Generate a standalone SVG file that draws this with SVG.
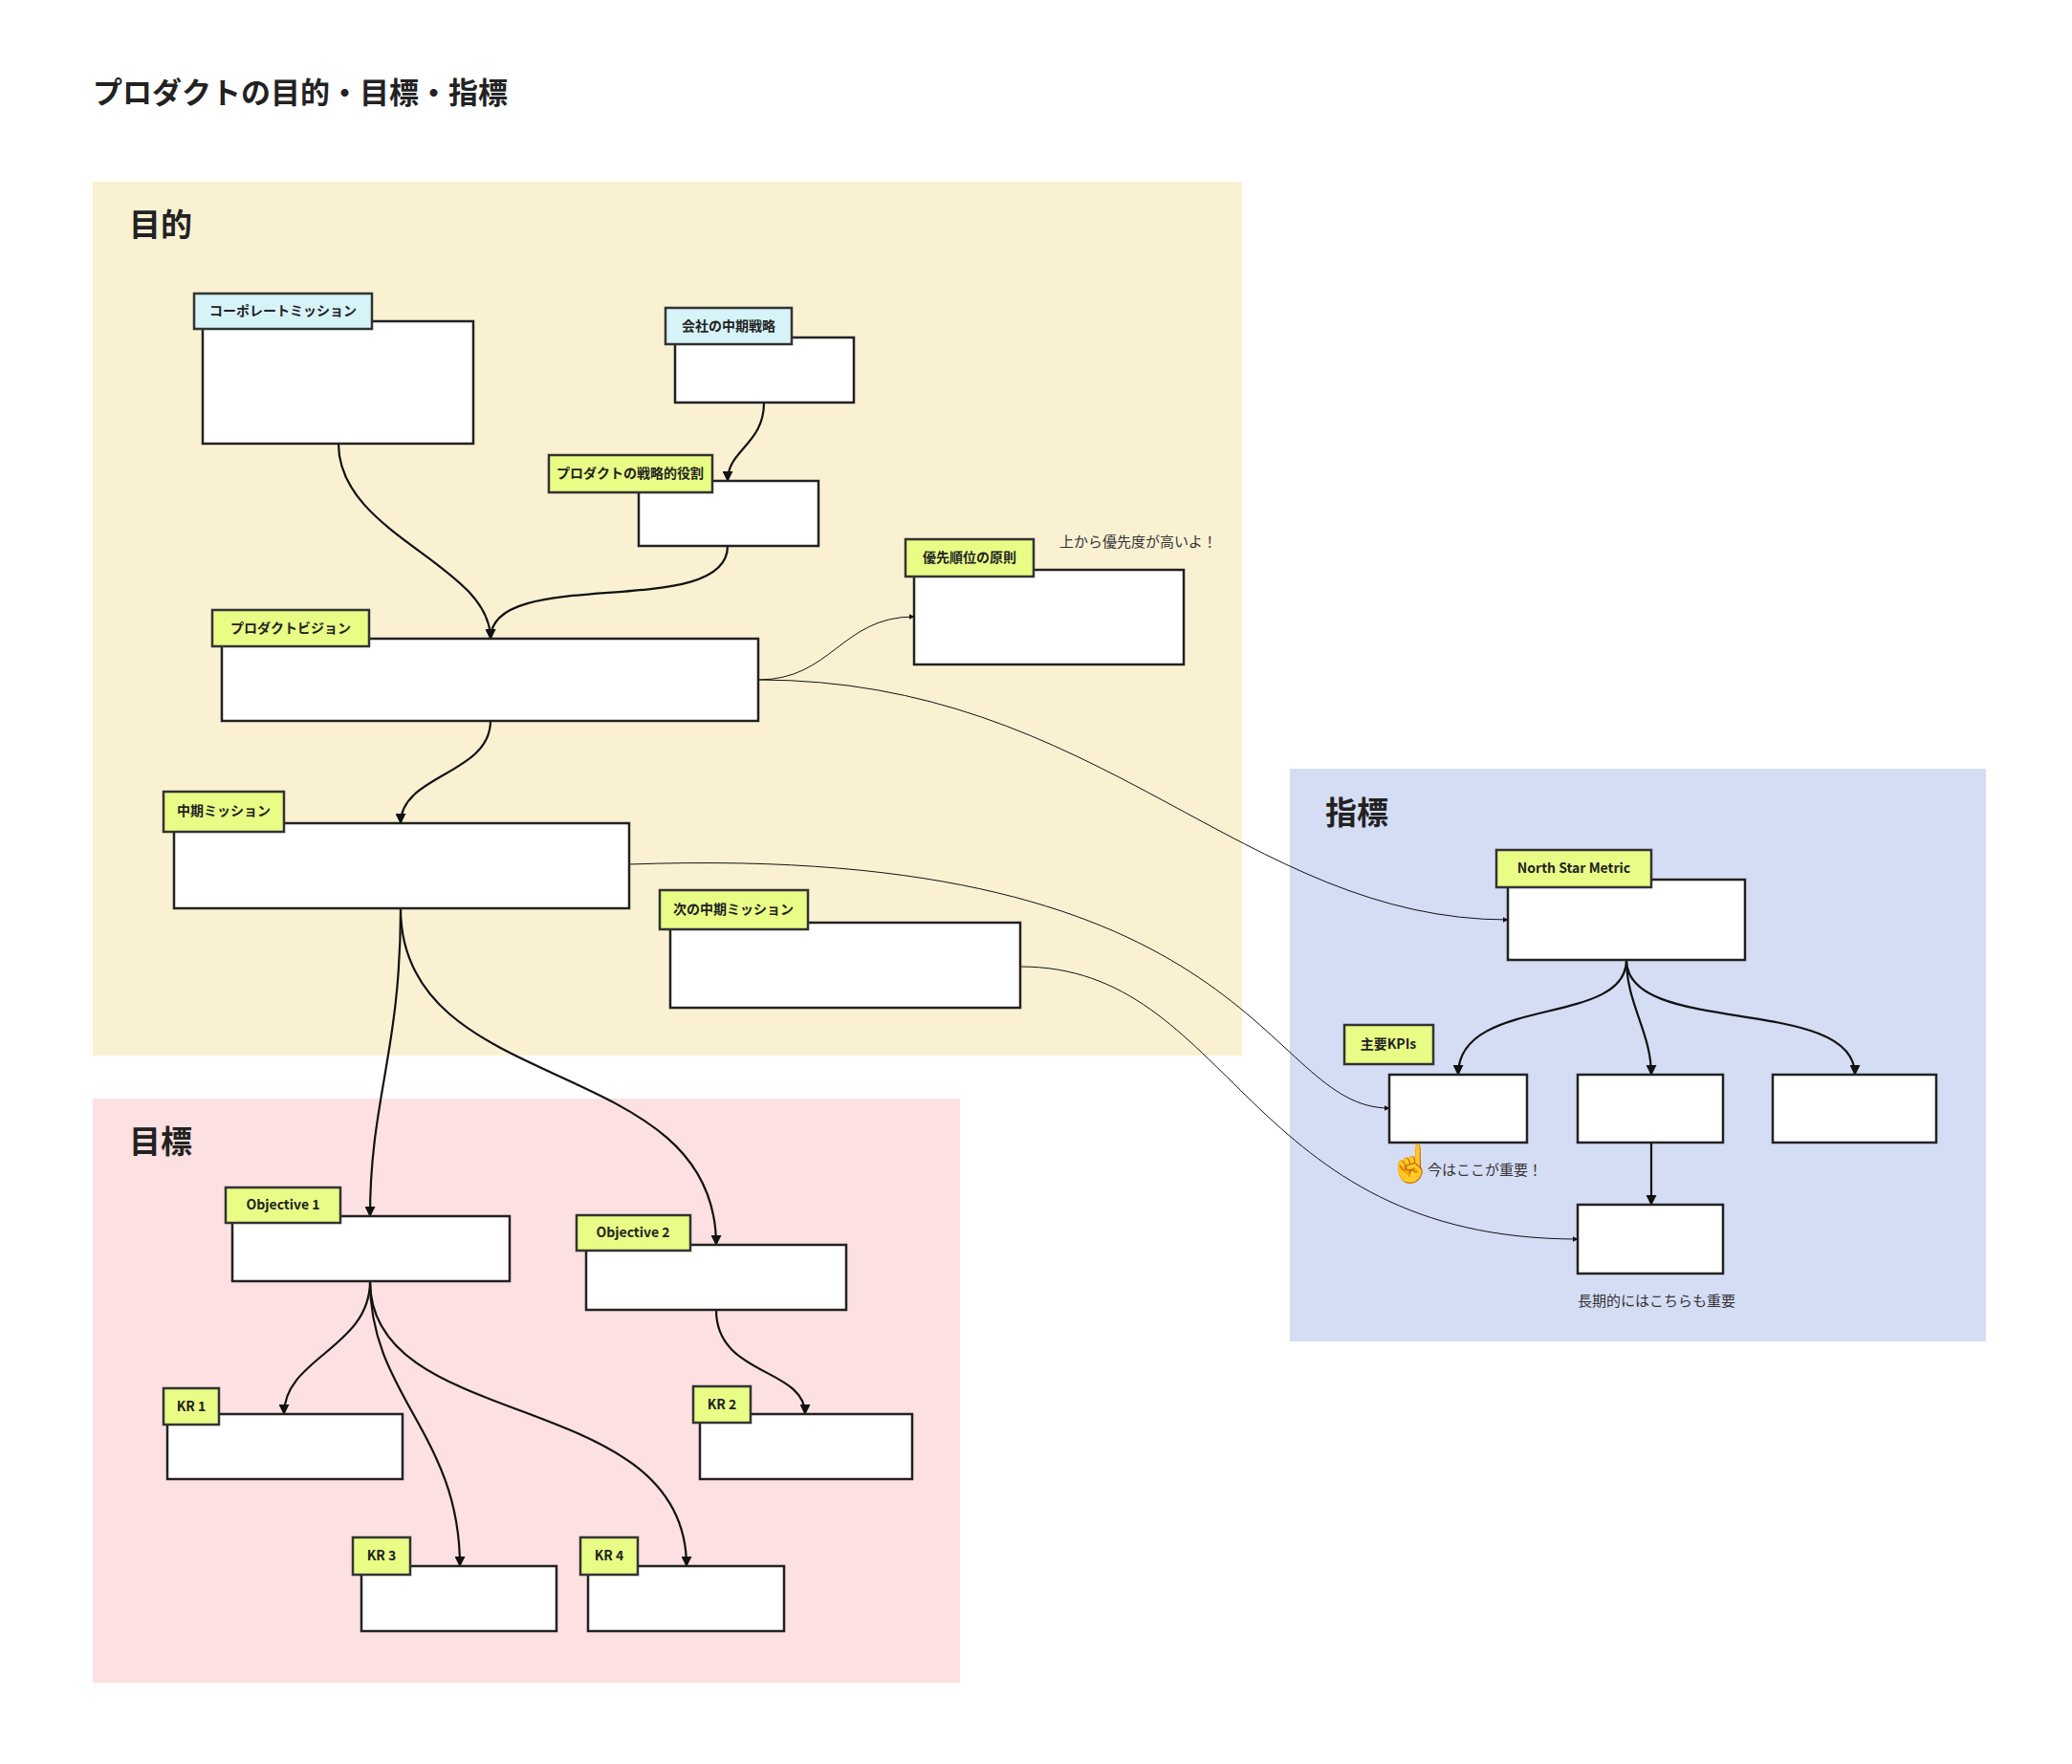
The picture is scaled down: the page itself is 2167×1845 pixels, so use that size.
<svg xmlns="http://www.w3.org/2000/svg" width="2167" height="1845" viewBox="0 0 2167 1845">
<defs>
<style>
.box{fill:#fff;stroke:#222;stroke-width:2.5}
.tg{fill:#e8fc86;stroke:#333;stroke-width:2.5}
.tc{fill:#d6f3f7;stroke:#333;stroke-width:2.5}
.tt{font-family:"Noto Sans CJK JP","Noto Sans",sans-serif;font-size:14px;font-weight:bold;fill:#222}
.note{font-family:"Noto Sans CJK JP","Noto Sans",sans-serif;font-size:15px;fill:#333}
.h{font-family:"Noto Sans CJK JP",sans-serif;font-weight:bold;fill:#222}
.c{fill:none;stroke:#111;stroke-width:2.2}
.t{fill:none;stroke:#111;stroke-width:1}
</style>
<marker id="a" viewBox="0 0 10 10" refX="9" refY="5" markerWidth="5" markerHeight="5" orient="auto" markerUnits="strokeWidth"><path d="M0,0L10,5L0,10z" fill="#111"/></marker>
<marker id="s" viewBox="0 0 10 10" refX="9" refY="5" markerWidth="6" markerHeight="6" orient="auto" markerUnits="strokeWidth"><path d="M0,0L10,5L0,10z" fill="#111"/></marker>
</defs>
<rect width="2167" height="1845" fill="#fff"/>
<text class="h" x="97" y="108" font-size="31">プロダクトの目的・目標・指標</text>
<g id="region-purpose"><rect x="97" y="190" width="1202" height="914" fill="#faf1d3"/><text class="h" x="135" y="247" font-size="33">目的</text></g>
<g id="region-goal"><rect x="97" y="1149" width="907" height="611" fill="#fde0e1"/><text class="h" x="135" y="1206" font-size="33">目標</text></g>
<g id="region-metric"><rect x="1349" y="804" width="728" height="599" fill="#d5ddf5"/><text class="h" x="1386" y="862" font-size="33">指標</text></g>
<g id="connectors">
<path class="c" marker-end="url(#a)" d="M354,464 C354,560 513,590 513,668"/>
<path class="c" marker-end="url(#a)" d="M799,421 C799,465 761,470 761,503"/>
<path class="c" marker-end="url(#a)" d="M761,571 C761,650 513,590 513,668"/>
<path class="t" marker-end="url(#s)" d="M793,711 C870,711 880,645 956,645"/>
<path class="t" marker-end="url(#s)" d="M793,711 C1150,711 1300,962 1577,962"/>
<path class="c" marker-end="url(#a)" d="M513,754 C513,810 419,810 419,861"/>
<path class="t" marker-end="url(#s)" d="M658,904 C1320,880 1320,1159 1453,1159"/>
<path class="t" marker-end="url(#s)" d="M1067,1011 C1290,1011 1300,1296 1650,1296"/>
<path class="c" marker-end="url(#a)" d="M419,950 C419,1100 387,1150 387,1272"/>
<path class="c" marker-end="url(#a)" d="M419,950 C419,1150 749,1100 749,1302"/>
<path class="c" marker-end="url(#a)" d="M387,1340 C387,1410 297,1420 297,1479"/>
<path class="c" marker-end="url(#a)" d="M387,1340 C387,1460 481,1500 481,1638"/>
<path class="c" marker-end="url(#a)" d="M387,1340 C387,1500 718,1450 718,1638"/>
<path class="c" marker-end="url(#a)" d="M749,1370 C749,1440 842,1430 842,1479"/>
<path class="c" marker-end="url(#a)" d="M1701,1004 C1701,1075 1525,1040 1525,1124"/>
<path class="c" marker-end="url(#a)" d="M1701,1004 C1701,1050 1727,1080 1727,1124"/>
<path class="c" marker-end="url(#a)" d="M1701,1004 C1701,1085 1940,1040 1940,1124"/>
<path class="c" marker-end="url(#a)" d="M1727,1195 L1727,1260"/>
</g>
<g id="n-corp"><rect class="box" x="212" y="336" width="283" height="128"/><rect class="tc" x="203" y="307" width="186" height="37"/><text class="tt" x="296" y="330" text-anchor="middle">コーポレートミッション</text></g>
<g id="n-strategy"><rect class="box" x="706" y="353" width="187" height="68"/><rect class="tc" x="696" y="322" width="132" height="38"/><text class="tt" x="762" y="346" text-anchor="middle">会社の中期戦略</text></g>
<g id="n-role"><rect class="box" x="668" y="503" width="188" height="68"/><rect class="tg" x="574" y="476" width="171" height="39"/><text class="tt" x="659" y="500" text-anchor="middle">プロダクトの戦略的役割</text></g>
<g id="n-priority"><rect class="box" x="956" y="596" width="282" height="99"/><rect class="tg" x="947" y="564" width="134" height="39"/><text class="tt" x="1014" y="588" text-anchor="middle">優先順位の原則</text><text class="note" x="1108" y="572">上から優先度が高いよ！</text></g>
<g id="n-vision"><rect class="box" x="232" y="668" width="561" height="86"/><rect class="tg" x="222" y="638" width="164" height="38"/><text class="tt" x="304" y="662" text-anchor="middle">プロダクトビジョン</text></g>
<g id="n-mid"><rect class="box" x="182" y="861" width="476" height="89"/><rect class="tg" x="171" y="828" width="126" height="42"/><text class="tt" x="234" y="853" text-anchor="middle">中期ミッション</text></g>
<g id="n-next"><rect class="box" x="701" y="965" width="366" height="89"/><rect class="tg" x="690" y="931" width="155" height="41"/><text class="tt" x="767" y="956" text-anchor="middle" font-weight="normal">次の中期ミッション</text></g>
<g id="n-obj1"><rect class="box" x="243" y="1272" width="290" height="68"/><rect class="tg" x="236" y="1242" width="120" height="37"/><text class="tt" x="296" y="1265" text-anchor="middle">Objective 1</text></g>
<g id="n-obj2"><rect class="box" x="613" y="1302" width="272" height="68"/><rect class="tg" x="603" y="1271" width="119" height="37"/><text class="tt" x="662" y="1294" text-anchor="middle">Objective 2</text></g>
<g id="n-kr1"><rect class="box" x="175" y="1479" width="246" height="68"/><rect class="tg" x="171" y="1452" width="58" height="38"/><text class="tt" x="200" y="1476" text-anchor="middle">KR 1</text></g>
<g id="n-kr2"><rect class="box" x="732" y="1479" width="222" height="68"/><rect class="tg" x="725" y="1450" width="60" height="38"/><text class="tt" x="755" y="1474" text-anchor="middle">KR 2</text></g>
<g id="n-kr3"><rect class="box" x="378" y="1638" width="204" height="68"/><rect class="tg" x="369" y="1608" width="60" height="39"/><text class="tt" x="399" y="1632" text-anchor="middle">KR 3</text></g>
<g id="n-kr4"><rect class="box" x="615" y="1638" width="205" height="68"/><rect class="tg" x="607" y="1608" width="60" height="39"/><text class="tt" x="637" y="1632" text-anchor="middle">KR 4</text></g>
<g id="n-nsm"><rect class="box" x="1577" y="920" width="248" height="84"/><rect class="tg" x="1565" y="889" width="162" height="39"/><text class="tt" x="1646" y="913" text-anchor="middle">North Star Metric</text></g>
<g id="n-kpilabel"><rect class="tg" x="1406" y="1072" width="93" height="41"/><text class="tt" x="1452" y="1097" text-anchor="middle">主要KPIs</text></g>
<g id="n-kpi1"><rect class="box" x="1453" y="1124" width="144" height="71"/><text x="1452" y="1230" font-size="38" font-family="Noto Color Emoji,sans-serif">☝️</text><text class="note" x="1493" y="1229">今はここが重要！</text></g>
<g id="n-kpi2"><rect class="box" x="1650" y="1124" width="152" height="71"/></g>
<g id="n-kpi3"><rect class="box" x="1854" y="1124" width="171" height="71"/></g>
<g id="n-long"><rect class="box" x="1650" y="1260" width="152" height="72"/><text class="note" x="1650" y="1366">長期的にはこちらも重要</text></g>
</svg>
